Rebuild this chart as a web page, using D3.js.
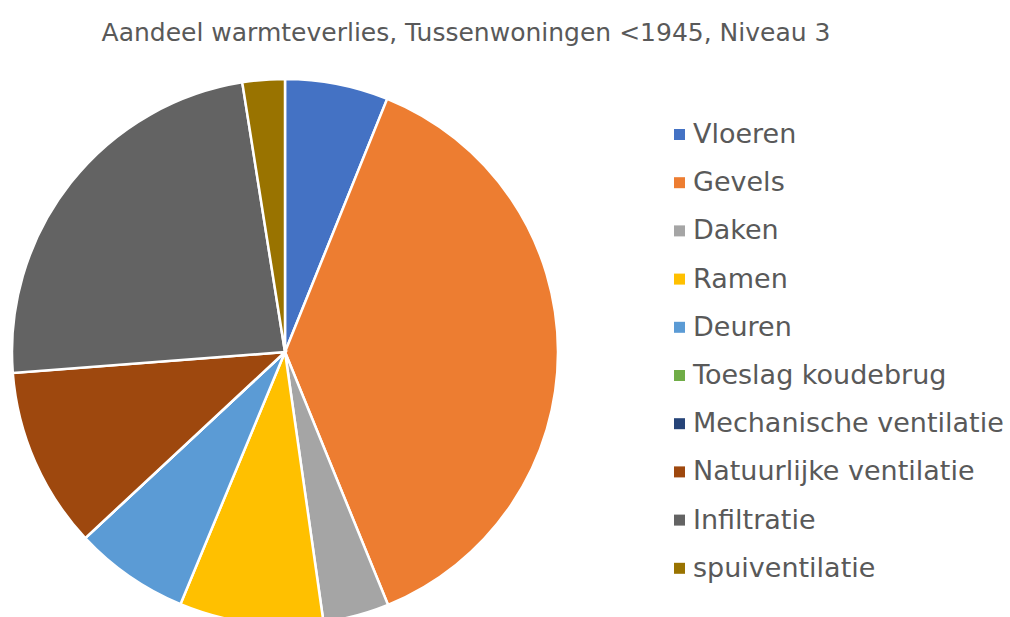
<!DOCTYPE html>
<html>
<head>
<meta charset="utf-8">
<script src="https://cdn.jsdelivr.net/npm/d3@7"></script>
<style>
  body { margin: 0; background: #fff; }
  text { font-family: "DejaVu Sans", Verdana, sans-serif; fill: #595959; }
</style>
</head>
<body>
<svg id="chart" width="1010" height="617"></svg>
<script>
// categories + share of heat loss (%)
var categories = ["Vloeren", "Gevels", "Daken", "Ramen", "Deuren", "Toeslag koudebrug",
                  "Mechanische ventilatie", "Natuurlijke ventilatie", "Infiltratie", "spuiventilatie"];
var values = [6.1, 37.7, 3.9, 8.5, 6.8, 0, 0, 10.7, 23.7, 2.5];
var colors = ["#4472C4", "#ED7D31", "#A5A5A5", "#FFC000", "#5B9BD5", "#70AD47",
              "#264478", "#9E480E", "#636363", "#997300"];
var title = "Aandeel warmteverlies, Tussenwoningen <1945, Niveau 3";

var svg = d3.select("#chart");

var color = d3.scaleOrdinal().domain(categories).range(colors);

// title
svg.append("text")
    .attr("x", 466).attr("y", 41)
    .attr("text-anchor", "middle")
    .style("font-size", "25px")
    .text(title);

// pie
var radius = 273;
var g = svg.append("g").attr("transform", "translate(285,352)");

var pie = d3.pie().sort(null).value(function(d) { return d.value; });
var arc = d3.arc().innerRadius(0).outerRadius(radius);

var data = categories.map(function(c, i) { return {name: c, value: values[i]}; });

g.selectAll("path")
    .data(pie(data))
    .enter().append("path")
    .attr("d", arc)
    .attr("fill", function(d) { return color(d.data.name); })
    .attr("stroke", "#fff")
    .attr("stroke-width", 2.5);

// legend
var legend = svg.append("g").attr("transform", "translate(674,143)");
var y = d3.scaleBand().domain(categories).range([0, 482]);

var item = legend.selectAll(".item")
    .data(categories)
    .enter().append("g")
    .attr("class", "item")
    .attr("transform", function(d) { return "translate(0," + y(d) + ")"; });

item.append("rect")
    .attr("x", 0).attr("y", -14)
    .attr("width", 11).attr("height", 11)
    .attr("fill", function(d) { return color(d); });

item.append("text")
    .attr("x", 19)
    .style("font-size", "27px")
    .text(function(d) { return d; });
</script>
</body>
</html>
